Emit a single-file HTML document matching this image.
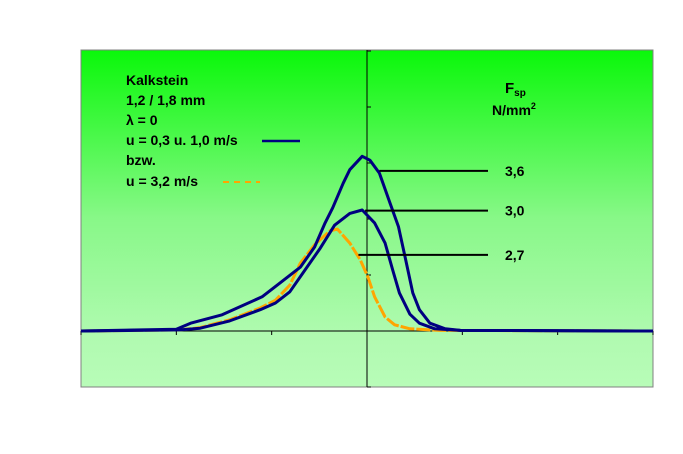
<!DOCTYPE html>
<html><head><meta charset="utf-8"><style>
html,body{margin:0;padding:0;background:#fff;}
svg{display:block;font-family:"Liberation Sans",Arial,sans-serif;}
</style></head><body>
<svg id="chart" width="683" height="454">
<defs><linearGradient id="bg" x1="0" y1="0" x2="0" y2="1">
<stop offset="0" stop-color="#0af80a"/><stop offset="0.5" stop-color="#88f888"/><stop offset="0.85" stop-color="#b0fab0"/><stop offset="1" stop-color="#b8fcb8"/></linearGradient></defs>
<rect x="81" y="50" width="572" height="337" fill="url(#bg)" stroke="#808080" stroke-width="1"/>
<g id="axes"></g>
<g id="series"></g>
<g font-weight="bold" font-size="14" fill="#000">
<text x="126" y="85">Kalkstein</text>
<text x="126" y="105">1,2 / 1,8 mm</text>
<text x="126" y="125">λ = 0</text>
<text x="126" y="145">u = 0,3 u. 1,0 m/s</text>
<text x="126" y="165">bzw.</text>
<text x="126" y="186">u = 3,2 m/s</text>
<line x1="262" y1="141" x2="300" y2="141" stroke="#000080" stroke-width="2.5"/>
<line x1="223" y1="182" x2="260" y2="182" stroke="#ffa500" stroke-width="2" stroke-dasharray="6,5"/>
<text x="505" y="93" font-size="15">F<tspan font-size="10" dy="3">sp</tspan></text>
<text x="492" y="115" font-size="14">N/mm<tspan font-size="9" dy="-6">2</tspan></text>
</g>
<g id="refs"></g>
</svg>
<script>
const xTicks=[-3,-2,-1,0,1,2,3];
const yTicks=[-1,0,1,2,3,4,5];
const xA=[-3,-2,-1.85,-1.52,-1.1,-0.91,-0.7,-0.55,-0.44,-0.36,-0.25,-0.18,-0.05,0.03,0.13,0.24,0.33,0.4,0.48,0.55,0.66,0.82,0.98,3];
const yA=[0,0.03,0.14,0.29,0.61,0.86,1.14,1.5,1.93,2.2,2.64,2.88,3.12,3.05,2.82,2.29,1.86,1.32,0.68,0.38,0.14,0.04,0.01,0];
const xB=[-3,-1.96,-1.75,-1.44,-1.12,-0.96,-0.81,-0.65,-0.49,-0.34,-0.18,-0.05,0.08,0.19,0.27,0.34,0.45,0.55,0.71,0.98,3];
const yB=[0,0.02,0.05,0.18,0.38,0.5,0.7,1.09,1.48,1.89,2.1,2.16,1.93,1.57,1.09,0.68,0.3,0.14,0.04,0.01,0];
const xO=[-3,-1.96,-1.75,-1.44,-1.12,-0.96,-0.81,-0.7,-0.55,-0.39,-0.31,-0.18,-0.07,0.01,0.08,0.19,0.29,0.45,0.76,3];
const yO=[0,0.02,0.06,0.2,0.41,0.55,0.82,1.21,1.54,1.79,1.82,1.57,1.27,0.96,0.61,0.25,0.11,0.04,0.01,0];
const refVals=[3.6,3.0,2.7];
const refLabels=["3,6","3,0","2,7"];
const refLevels=[2.86,2.15,1.36];
const refStarts=[0.13,-0.02,-0.09];
const X=v=>367+v*95.33, Y=v=>331-v*56;
const NS="http://www.w3.org/2000/svg";
function mk(t,a,p){const e=document.createElementNS(NS,t);for(const k in a)e.setAttribute(k,a[k]);p.appendChild(e);return e;}
const ax=document.getElementById('axes');
let l=mk('line',{x1:81,y1:Y(0),x2:653,y2:Y(0),stroke:'#000','stroke-width':1},ax);


l=mk('line',{x1:X(0),y1:50,x2:X(0),y2:387,stroke:'#000','stroke-width':1},ax);


xTicks.forEach(t=>{const e=mk('line',{x1:X(t),y1:Y(0),x2:X(t),y2:Y(0)+4,stroke:'#000'},ax);

});
yTicks.forEach(t=>{const e=mk('line',{x1:X(0),y1:Y(t),x2:X(0)+4,y2:Y(t),stroke:'#000'},ax);

});
const sg=document.getElementById('series');
function path(xs,ys,col,w,name,dash){const d=xs.map((x,i)=>(i?'L':'M')+X(x).toFixed(1)+','+Y(ys[i]).toFixed(1)).join('');
const a={d:d,fill:'none',stroke:col,'stroke-width':w,'stroke-linejoin':'round'};if(dash)a['stroke-dasharray']=dash;
const e=mk('path',a,sg);

}
path(xO,yO,'#ffa500',3,'series-orange','14,2');
path(xB,yB,'#000080',3,'series-blue-low');
path(xA,yA,'#000080',3,'series-blue-high');
const rg=document.getElementById('refs');
refVals.forEach((v,i)=>{const e=mk('line',{x1:X(refStarts[i]),y1:Y(refLevels[i]),x2:488,y2:Y(refLevels[i]),stroke:'#000','stroke-width':2},rg);


const t=mk('text',{x:505,y:Y(refLevels[i])+5,'font-weight':'bold','font-size':'14'},rg);t.textContent=refLabels[i];

});
</script>
</body></html>
